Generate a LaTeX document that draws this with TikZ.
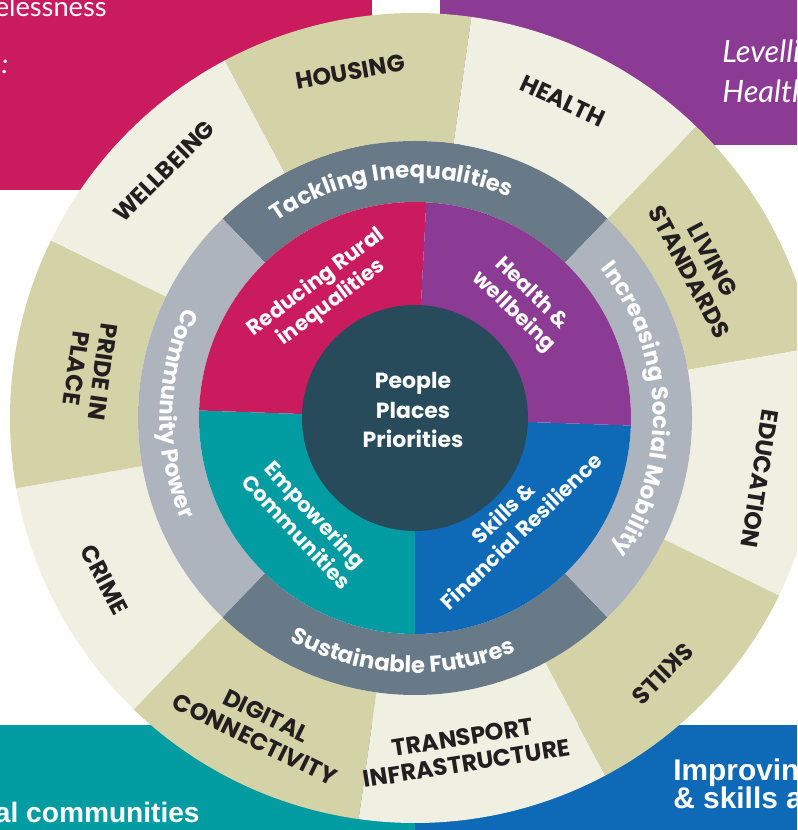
\documentclass[tikz,border=0pt]{standalone}
\usepackage{fontspec}
\setmainfont{Poppins}
\newfontfamily\boxfont{Lato}
\newfontfamily\heavyfont{Liberation Sans}
\usetikzlibrary{decorations.text}

\definecolor{magentaq}{HTML}{C91B5E}
\definecolor{purpleq}{HTML}{8C3B95}
\definecolor{tealq}{HTML}{009CA1}
\definecolor{blueq}{HTML}{0E6AB6}
\definecolor{corecol}{HTML}{274B5A}
\definecolor{slatering}{HTML}{687987}
\definecolor{greyring}{HTML}{AEB4BD}
\definecolor{khaki}{HTML}{D4D3A8}
\definecolor{cream}{HTML}{F0F0E2}
\definecolor{inkcol}{HTML}{231F20}

% annular sector: start angle, end angle, inner radius, outer radius, colour
\newcommand{\ringpart}[5]{\fill[#5] (#1:#3) arc[start angle=#1, end angle=#2, radius=#3] -- (#2:#4) arc[start angle=#2, end angle=#1, radius=#4] -- cycle;}

\tikzset{
  outerlabel/.style={text=inkcol, font=\bfseries\fontsize{13.5}{15}\selectfont, align=center, inner sep=0pt},
  quadlabel/.style={text=white, font=\bfseries\fontsize{12}{14.5}\selectfont, align=center, inner sep=0pt},
  corelabel/.style={text=white, font=\bfseries\fontsize{12.5}{17}\selectfont, align=center, inner sep=0pt},
  boxtext/.style={text=white, font=\boxfont\fontsize{15.5}{18}\selectfont, inner sep=0pt},
  boxitalic/.style={text=white, font=\boxfont\itshape\fontsize{17.5}{20}\selectfont, inner sep=0pt},
  boxhead/.style={text=white, font=\heavyfont\bfseries\fontsize{17}{20}\selectfont, inner sep=0pt},
  ringtext/.style={decorate, decoration={text along path, text align=center, text color=white,
      text={|\bfseries\fontsize{13}{13}\selectfont|#1}}}
}

\begin{document}
\begin{tikzpicture}[x=0.02cm, y=0.02cm]
  \useasboundingbox (-415,-412) rectangle (382,418);
  \clip (-415,-412) rectangle (382,418);

  % Background panels
  \fill[magentaq] (-415,418) rectangle (-43,228);
  \fill[purpleq] (25,418) rectangle (382,273);
  \fill[tealq] (-415,-307) rectangle (0,-412);
  \fill[blueq] (0,-307) rectangle (382,-412);

  % Panel texts
  \node[boxtext, anchor=base east] (homeless) at (-308,401) {Homelessness};
  \node[boxitalic, anchor=base, font=\boxfont\itshape\fontsize{15.5}{18}\selectfont] (colon) at (-410,344) {:};
  \node[boxitalic, anchor=base west] (levelling) at (307,355) {Levelling};
  \node[boxitalic, anchor=base west] (healthbox) at (307,315) {Health};
  \node[boxhead, anchor=base east, font=\heavyfont\bfseries\fontsize{16}{20}\selectfont] (communities) at (-215,-404) {rural communities};
  \node[boxhead, anchor=base west] (improving) at (258,-362) {Improving};
  \node[boxhead, anchor=base west] (skillsbox) at (258,-390) {\& skills and};

  % Outer ring of ten topics
  \ringpart{82}{118}{277}{405}{khaki}
  \ringpart{46}{82}{277}{405}{cream}
  \ringpart{10}{46}{277}{405}{khaki}
  \ringpart{-26}{10}{277}{405}{cream}
  \ringpart{-62}{-26}{277}{405}{khaki}
  \ringpart{-98}{-62}{277}{405}{cream}
  \ringpart{-134}{-98}{277}{405}{khaki}
  \ringpart{-170}{-134}{277}{405}{cream}
  \ringpart{154}{190}{277}{405}{khaki}
  \ringpart{118}{154}{277}{405}{cream}

  % Theme ring
  \ringpart{46}{134}{216}{277}{slatering}
  \ringpart{134}{226}{216}{277}{greyring}
  \ringpart{226}{314}{216}{277}{slatering}
  \ringpart{-46}{46}{216}{277}{greyring}

  % Priority quadrants
  \ringpart{87}{178}{112}{216}{magentaq}
  \ringpart{178}{270}{112}{216}{tealq}
  \ringpart{270}{358}{112}{216}{blueq}
  \ringpart{-2}{87}{112}{216}{purpleq}

  % Core
  \fill[corecol] (0,0) circle[radius=113];
  \node[corelabel] (core) at (-2,8) {People\\Places\\Priorities};

  % Marking outer topics
  \node[outerlabel, rotate=10] (housing) at (100.6:352) {HOUSING};
  \node[outerlabel, rotate=-25] (health) at (65:350) {HEALTH};
  \node[outerlabel, rotate=-62] (living) at (28:324) {LIVING\\STANDARDS};
  \node[outerlabel, rotate=-99] (education) at (350:350) {EDUCATION};
  \node[outerlabel, rotate=-135] (skills) at (314:356) {SKILLS};
  \node[outerlabel, rotate=9] (transport) at (278.5:336) {TRANSPORT\\INFRASTRUCTURE};
  \node[outerlabel, rotate=-26] (digital) at (243.5:346) {DIGITAL\\CONNECTIVITY};
  \node[outerlabel, rotate=-62] (crime) at (207.5:350) {CRIME};
  \node[outerlabel, rotate=-98] (pride) at (171.6:329) {PRIDE IN\\PLACE};
  \node[outerlabel, rotate=45] (wellbeing) at (135.5:352) {WELLBEING};

  % Marking themes along the ring
  \path[ringtext={Tackling Inequalities}] (146:240) arc[start angle=146, end angle=46, radius=240];
  \path[ringtext={Increasing Social Mobility}] (62:238) arc[start angle=62, end angle=-57, radius=238];
  \path[ringtext={Sustainable Futures}] (222:255) arc[start angle=222, end angle=312, radius=255];
  \path[ringtext={Community Power}] (134:255) arc[start angle=134, end angle=224, radius=255];

  % Marking priorities
  \node[quadlabel, rotate=37] (rural) at (126:155) {Reducing Rural\\inequalities};
  \node[quadlabel, rotate=-44] (wellq) at (47:157) {Health \&\\wellbeing};
  \node[quadlabel, rotate=-47] (empower) at (224:151) {Empowering\\Communities};
  \node[quadlabel, rotate=44] (resilience) at (313:142) {Skills \&\\Financial Resilience};
\end{tikzpicture}
\end{document}
